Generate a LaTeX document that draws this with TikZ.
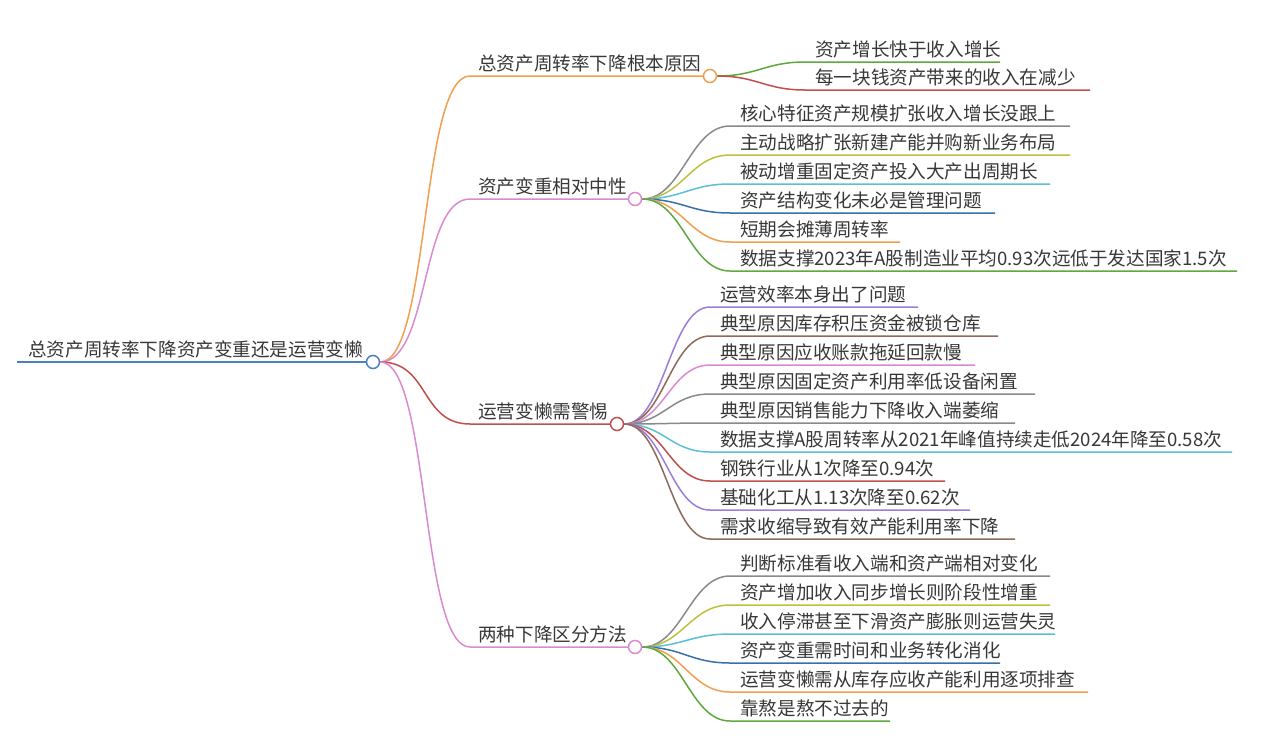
\documentclass[tikz,border=0pt]{standalone}
\usepackage{fontspec}
\setmainfont{Noto Sans CJK SC}
\usetikzlibrary{calc}
\begin{document}
\begin{tikzpicture}[x=1pt,y=-1pt,
 t/.style={anchor=base west,inner sep=0,font=\fontsize{18.6}{18}\selectfont,text=black!78},
 dot/.style={circle,draw=#1,fill=white,line width=1.5pt,minimum size=13pt,inner sep=0},
 ln/.style={line width=1.5pt}]
\useasboundingbox[fill=white] (0,0) rectangle (1261,750);
\definecolor{cB}{HTML}{4A7FC0}\definecolor{cO}{HTML}{F0A050}\definecolor{cP}{HTML}{D98AD0}
\definecolor{cR}{HTML}{C0504D}\definecolor{cG}{HTML}{8A8A8A}\definecolor{cY}{HTML}{BFC040}
\definecolor{cC}{HTML}{5BC0D8}\definecolor{cD}{HTML}{3A70A8}\definecolor{cN}{HTML}{60A840}
\definecolor{cV}{HTML}{9A7ED8}\definecolor{cW}{HTML}{8E6A5A}
% root
\node[t] (r) at (28,356) {总资产周转率下降资产变重还是运营变懒};
\draw[ln,cB] (17,362) -- (366,362);
\node[dot=cB] (rc) at (373,362) {};
% branches
\def\branch#1#2#3#4#5{%
 \draw[ln,#4] (rc.east) .. controls (430,362) and (420,#2) .. (470,#2) -- (#3,#2);
 \node[t] (#5) at (478,#2-6) {#1};}
\branch{总资产周转率下降根本原因}{76}{703}{cO}{b1}
\branch{资产变重相对中性}{199}{628}{cP}{b2}
\branch{运营变懒需警惕}{424}{610}{cR}{b3}
\branch{两种下降区分方法}{647}{628}{cP}{b4}
\node[dot=cO] (c1) at (710,76) {};
\node[dot=cP] (c2) at (635,199) {};
\node[dot=cR] (c3) at (617,424) {};
\node[dot=cP] (c4) at (635,647) {};
\def\leaf#1#2#3#4#5#6{%
 \draw[ln,#5] (#1.east) .. controls ($(#1.east)+(40,0)$) and ($(#3,#2)+(-50,0)$) .. (#3-10,#2) -- (#4,#2);
 \node[t] at (#3,#2-6) {#6};}
\leaf{c1}{62}{815}{1000}{cN}{资产增长快于收入增长}
\leaf{c1}{90}{815}{1090}{cR}{每一块钱资产带来的收入在减少}
\leaf{c2}{126}{740}{1070}{cG}{核心特征资产规模扩张收入增长没跟上}
\leaf{c2}{155}{740}{1070}{cY}{主动战略扩张新建产能并购新业务布局}
\leaf{c2}{184}{740}{1050}{cC}{被动增重固定资产投入大产出周期长}
\leaf{c2}{213}{740}{995}{cD}{资产结构变化未必是管理问题}
\leaf{c2}{242}{740}{900}{cO}{短期会摊薄周转率}
\leaf{c2}{271}{740}{1237}{cN}{数据支撑2023年A股制造业平均0.93次远低于发达国家1.5次}
\leaf{c3}{307}{720}{918}{cV}{运营效率本身出了问题}
\leaf{c3}{336}{720}{998}{cW}{典型原因库存积压资金被锁仓库}
\leaf{c3}{365}{720}{975}{cP}{典型原因应收账款拖延回款慢}
\leaf{c3}{394}{720}{1035}{cG}{典型原因固定资产利用率低设备闲置}
\leaf{c3}{423}{720}{1015}{cG}{典型原因销售能力下降收入端萎缩}
\leaf{c3}{452}{720}{1232}{cC}{数据支撑A股周转率从2021年峰值持续走低2024年降至0.58次}
\leaf{c3}{481}{720}{945}{cR}{钢铁行业从1次降至0.94次}
\leaf{c3}{510}{720}{970}{cV}{基础化工从1.13次降至0.62次}
\leaf{c3}{539}{720}{1015}{cW}{需求收缩导致有效产能利用率下降}
\leaf{c4}{576}{740}{1050}{cG}{判断标准看收入端和资产端相对变化}
\leaf{c4}{605}{740}{1050}{cY}{资产增加收入同步增长则阶段性增重}
\leaf{c4}{634}{740}{1055}{cC}{收入停滞甚至下滑资产膨胀则运营失灵}
\leaf{c4}{663}{740}{1000}{cD}{资产变重需时间和业务转化消化}
\leaf{c4}{692}{740}{1088}{cO}{运营变懒需从库存应收产能利用逐项排查}
\leaf{c4}{721}{740}{890}{cN}{靠熬是熬不过去的}
\end{tikzpicture}
\end{document}
